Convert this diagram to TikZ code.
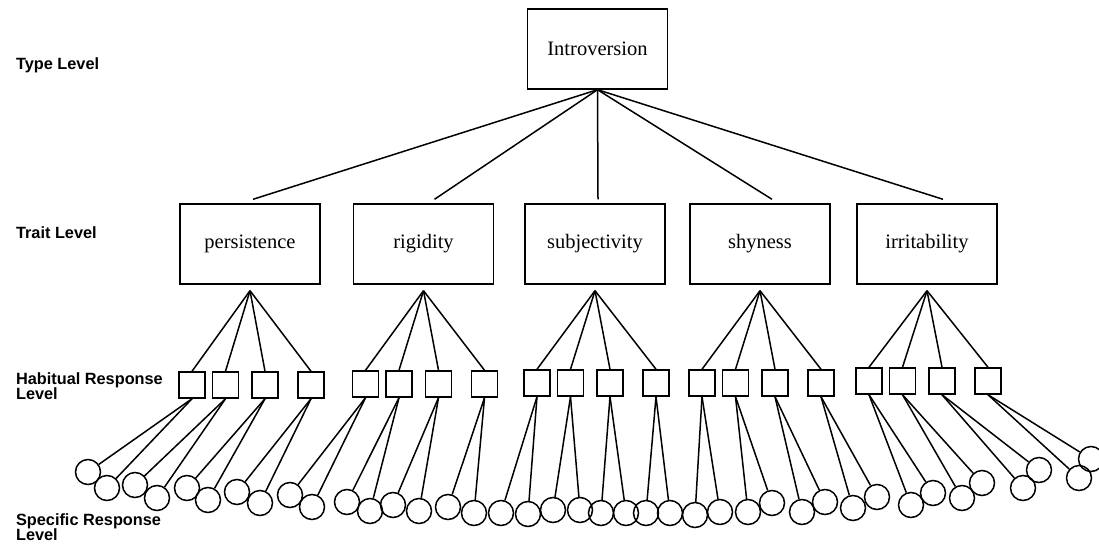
\documentclass[tikz,border=0pt]{standalone}
\usepackage{fontspec}
\setmainfont{Liberation Serif}
\newfontfamily\levelfont{Liberation Sans}
\begin{document}
\begin{tikzpicture}[x=1pt, y=-1pt, line width=1.5pt]
\tikzset{
  typebox/.style={draw, line width=1.4pt, minimum width=140pt, minimum height=80pt, font=\fontsize{20.5}{23}\selectfont},
  habbox/.style={draw, minimum size=26pt, inner sep=0pt},
  respcirc/.style={draw, circle, minimum size=25pt, inner sep=0pt},
  levellabel/.style={anchor=west, align=left, font=\levelfont\bfseries\fontsize{16.3}{15.5}\selectfont}
}
\useasboundingbox (0,0) rectangle (1099,546);

% level labels
\node[levellabel] (ltype) at (12,65) {Type Level};
\node[levellabel] (ltrait) at (12,233) {Trait Level};
\node[levellabel] (lhab) at (12,386) {Habitual Response\\Level};
\node[levellabel] (lspec) at (12,527) {Specific Response\\Level};

% type and traits
\node[typebox] (intro) at (597.5,49) {Introversion};
\foreach \name/\x [count=\i] in {persistence/250, rigidity/423.5, subjectivity/595, shyness/760, irritability/927}
  \node[typebox] (t\i) at (\x,244) {\name};

% habitual responses
\foreach \i/\x/\y in {1/250/385, 2/423.5/384, 3/595/383, 4/760/383, 5/927/381}
  \foreach \d [count=\j] in {-58,-24.5,15,61} {
    \pgfmathtruncatemacro\k{(\i-1)*4+\j}
    \node[habbox] (h\k) at ({\x+(\d)},\y) {};
  }

% specific responses
\foreach \x/\y [count=\k] in {88/472, 107/488, 135/485, 157/498, 187/488, 208/500, 237/492, 260/503,
    290/495, 312/507, 347/502, 370/511, 393/505, 419/511, 448/507, 474/513, 501/513, 528/514,
    553/510, 580/510, 601/513, 626/513, 646/513, 670/513, 695/515, 720/512, 748/512, 772/503,
    802/512, 825/502, 853/508, 877/497, 911/505, 933/493, 962/498, 982/483, 1023/488, 1039/470,
    1079/478, 1091/459}
  \node[respcirc] (c\k) at (\x,\y) {};

% connectors
\foreach \i/\dx in {1/3, 2/11, 3/3, 4/12, 5/16}
  \draw (intro.south) -- ([xshift=\dx pt, yshift=4pt]t\i.north);
\foreach \i in {1,...,5}
  \foreach \j in {1,...,4} {
    \pgfmathtruncatemacro\k{(\i-1)*4+\j}
    \draw ([yshift=-6pt]t\i.south) -- (h\k.north);
  }
\foreach \k in {1,...,20} {
  \pgfmathtruncatemacro\a{2*\k-1}
  \pgfmathtruncatemacro\b{2*\k}
  \draw (h\k.south) -- (c\a);
  \draw (h\k.south) -- (c\b);
}
\end{tikzpicture}
\end{document}
